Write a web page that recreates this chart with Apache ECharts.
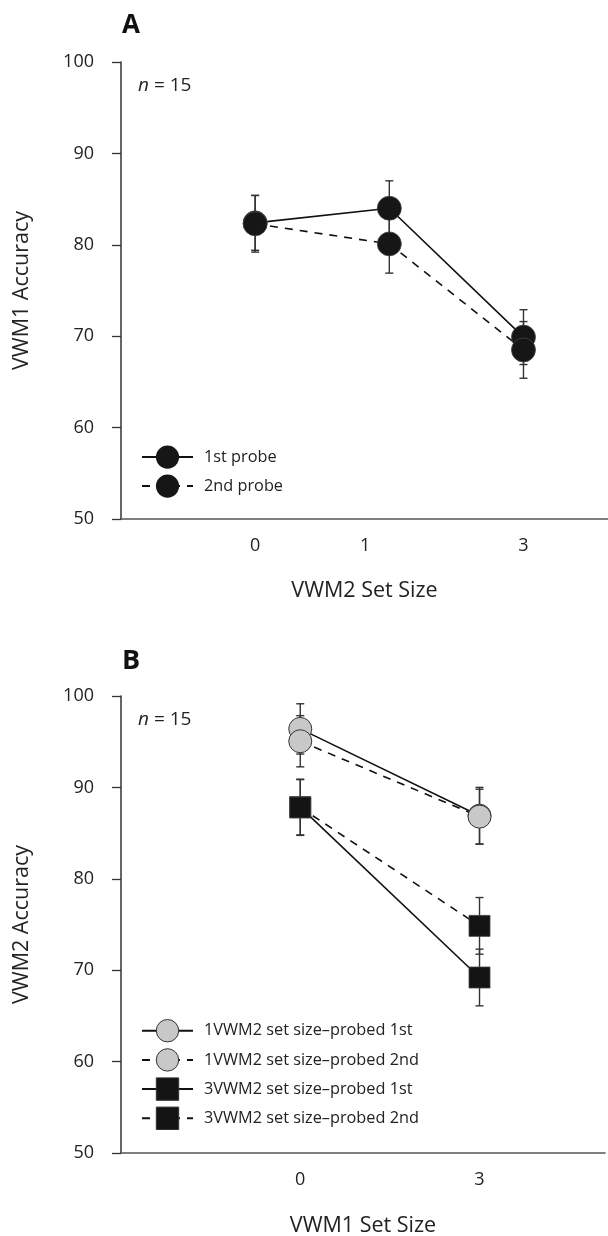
<!DOCTYPE html>
<html>
<head>
<meta charset="utf-8">
<style>
  html, body { margin: 0; padding: 0; background: #fff; }
  #chart { width: 608px; height: 1236px; }
</style>
<script src="https://cdn.jsdelivr.net/npm/echarts@6.0.0/dist/echarts.min.js"></script>
</head>
<body>
<div id="chart"></div>
<script>
// ---------- Data ----------
// Panel A: VWM1 accuracy by VWM2 set size
const catsA = ['0', '1', '3'];
const probe1A = [82.4, 84.0, 69.9];
const probe2A = [82.3, 80.1, 68.5];
const probe1ErrA = [3.0, 3.0, 3.0];
const probe2ErrA = [3.1, 3.2, 3.1];
const namesA = ['1st probe', '2nd probe'];

// Panel B: VWM2 accuracy by VWM1 set size
const catsB = ['0', '3'];
const s1p1B = [96.4, 86.9];
const s1p2B = [95.05, 86.8];
const s3p1B = [87.85, 69.2];
const s3p2B = [87.8, 74.85];
const s1p1ErrB = [2.75, 3.1];
const s1p2ErrB = [2.8, 3.0];
const s3p1ErrB = [3.05, 3.1];
const s3p2ErrB = [3.05, 3.1];
const namesB = ['1VWM2 set size\u2013probed 1st', '1VWM2 set size\u2013probed 2nd',
                '3VWM2 set size\u2013probed 1st', '3VWM2 set size\u2013probed 2nd'];

const yTicks = [50, 60, 70, 80, 90, 100];

// ---------- Helpers ----------
const FONT = '"Open Sans", "Noto Sans", sans-serif';
const pts = arr => arr.map((v, i) => [i + 1, v]);
const errs = (arr, e) => arr.map((v, i) => [i + 1, v - e[i], v + e[i]]);

function errorSeries(data, xi) {
  return {
    type: 'custom', xAxisIndex: xi, yAxisIndex: xi, z: 2, silent: true,
    encode: { x: 0, y: [1, 2] },
    data: data,
    renderItem: function (params, api) {
      const x = api.value(0);
      const lo = api.coord([x, api.value(1)]);
      const hi = api.coord([x, api.value(2)]);
      const w = 4;
      const st = { stroke: '#333', lineWidth: 1.4 };
      return {
        type: 'group',
        children: [
          { type: 'line', shape: { x1: lo[0], y1: lo[1], x2: hi[0], y2: hi[1] }, style: st },
          { type: 'line', shape: { x1: lo[0] - w, y1: lo[1], x2: lo[0] + w, y2: lo[1] }, style: st },
          { type: 'line', shape: { x1: hi[0] - w, y1: hi[1], x2: hi[0] + w, y2: hi[1] }, style: st }
        ]
      };
    }
  };
}

function lineSeries(name, data, xi, dashed, symbol, fill) {
  return {
    name: name, type: 'line', xAxisIndex: xi, yAxisIndex: xi, z: 3,
    data: data, symbol: symbol, showSymbol: false, silent: true,
    lineStyle: { color: '#111', width: 1.6, type: dashed ? [8, 7] : 'solid' },
    itemStyle: { color: fill, borderColor: '#333', borderWidth: fill === '#c8c8c8' ? 1 : 0.8 }
  };
}

function markerSeries(data, xi, symbol, size, fill) {
  return {
    type: 'scatter', xAxisIndex: xi, yAxisIndex: xi, z: 4, silent: true,
    data: data, symbol: symbol, symbolSize: size,
    itemStyle: { color: fill, borderColor: fill === '#c8c8c8' ? '#333' : '#444',
                 borderWidth: fill === '#c8c8c8' ? 1 : 0.8, opacity: 1 }
  };
}

const labelPosA = [1, 1.82, 3];
const labelPosB = [1, 2];
const labelMapA = {}; labelPosA.forEach((p, i) => labelMapA[p] = catsA[i]);
const labelMapB = {}; labelPosB.forEach((p, i) => labelMapB[p] = catsB[i]);

function xAxisCfg(gi, max, name, customVals, map, gap) {
  return {
    type: 'value', gridIndex: gi, min: 0, max: max,
    name: name, nameLocation: 'middle', nameGap: gap,
    nameTextStyle: { fontFamily: FONT, fontSize: 21.5, color: '#222' },
    axisLine: { show: true, lineStyle: { color: '#555', width: 1.6 } },
    axisTick: { show: false },
    splitLine: { show: false },
    axisLabel: {
      customValues: customVals,
      formatter: v => (map[v] !== undefined ? map[v] : ''),
      fontFamily: FONT, fontSize: 18, color: '#222', margin: 18
    }
  };
}

function yAxisCfg(gi, name) {
  return {
    type: 'value', gridIndex: gi, min: yTicks[0], max: yTicks[yTicks.length - 1], interval: 10,
    name: name, nameLocation: 'middle', nameGap: 88,
    nameTextStyle: { fontFamily: FONT, fontSize: 21.5, color: '#222' },
    axisLine: { show: true, lineStyle: { color: '#333', width: 1.5 } },
    axisTick: { show: true, inside: false, length: 9, lineStyle: { color: '#333', width: 1.3 } },
    splitLine: { show: false },
    axisLabel: { fontFamily: FONT, fontSize: 18, color: '#222', margin: 27 }
  };
}

const chart = echarts.init(document.getElementById('chart'), null, { renderer: 'canvas' });

const option = {
  animation: false,
  backgroundColor: '#fff',
  grid: [
    { left: 121, top: 62, width: 487, height: 457, outerBoundsMode: 'none', containLabel: false },
    { left: 121, top: 696, width: 484, height: 457, outerBoundsMode: 'none', containLabel: false }
  ],
  xAxis: [
    xAxisCfg(0, 3.63, 'VWM2 Set Size', labelPosA, labelMapA, 61),
    xAxisCfg(1, 2.70, 'VWM1 Set Size', labelPosB, labelMapB, 62)
  ],
  yAxis: [
    yAxisCfg(0, 'VWM1 Accuracy'),
    yAxisCfg(1, 'VWM2 Accuracy')
  ],
  legend: [
    {
      data: namesA, orient: 'vertical', left: 141, top: 445.5, padding: 0,
      itemWidth: 51, itemHeight: 29, itemGap: 5.8, selectedMode: false,
      itemStyle: { borderWidth: 0 },
      textStyle: { fontFamily: FONT, fontSize: 16.3, color: '#222', padding: [0, 0, 0, 6] }
    },
    {
      data: namesB, orient: 'vertical', left: 141, top: 1019, padding: 0,
      itemWidth: 51, itemHeight: 28, itemGap: 5.8, selectedMode: false,
      itemStyle: { borderWidth: 1 },
      textStyle: { fontFamily: FONT, fontSize: 16.3, color: '#222', padding: [0, 0, 0, 6] }
    }
  ],
  graphic: [
    { type: 'text', silent: true, style: { x: 122, y: 26, text: 'A', fill: '#111',
      font: 'bold 26px ' + FONT, verticalAlign: 'middle' } },
    { type: 'text', silent: true, style: { x: 122, y: 661, text: 'B', fill: '#111',
      font: 'bold 27px ' + FONT, verticalAlign: 'middle' } },
    { type: 'text', silent: true, style: { x: 138, y: 86, text: '{i|n} = 15', fill: '#222',
      font: '19px ' + FONT, verticalAlign: 'middle',
      rich: { i: { fontStyle: 'italic', fontSize: 19, fontFamily: FONT } } } },
    { type: 'text', silent: true, style: { x: 138, y: 720, text: '{i|n} = 15', fill: '#222',
      font: '19px ' + FONT, verticalAlign: 'middle',
      rich: { i: { fontStyle: 'italic', fontSize: 19, fontFamily: FONT } } } }
  ],
  series: [
    // Panel A
    errorSeries(errs(probe1A, probe1ErrA), 0),
    errorSeries(errs(probe2A, probe2ErrA), 0),
    lineSeries(namesA[0], pts(probe1A), 0, false, 'circle', '#161616'),
    lineSeries(namesA[1], pts(probe2A), 0, true, 'circle', '#161616'),
    markerSeries(pts(probe1A), 0, 'circle', 24, '#161616'),
    markerSeries(pts(probe2A), 0, 'circle', 24, '#161616'),
    // Panel B
    errorSeries(errs(s1p1B, s1p1ErrB), 1),
    errorSeries(errs(s1p2B, s1p2ErrB), 1),
    errorSeries(errs(s3p1B, s3p1ErrB), 1),
    errorSeries(errs(s3p2B, s3p2ErrB), 1),
    lineSeries(namesB[0], pts(s1p1B), 1, false, 'circle', '#c8c8c8'),
    lineSeries(namesB[1], pts(s1p2B), 1, true, 'circle', '#c8c8c8'),
    lineSeries(namesB[2], pts(s3p1B), 1, false, 'rect', '#141414'),
    lineSeries(namesB[3], pts(s3p2B), 1, true, 'rect', '#141414'),
    markerSeries(pts(s1p1B), 1, 'circle', 23, '#c8c8c8'),
    markerSeries(pts(s1p2B), 1, 'circle', 23, '#c8c8c8'),
    markerSeries(pts(s3p1B), 1, 'rect', 21, '#141414'),
    markerSeries(pts(s3p2B), 1, 'rect', 21, '#141414')
  ]
};

chart.setOption(option);
</script>
</body>
</html>
